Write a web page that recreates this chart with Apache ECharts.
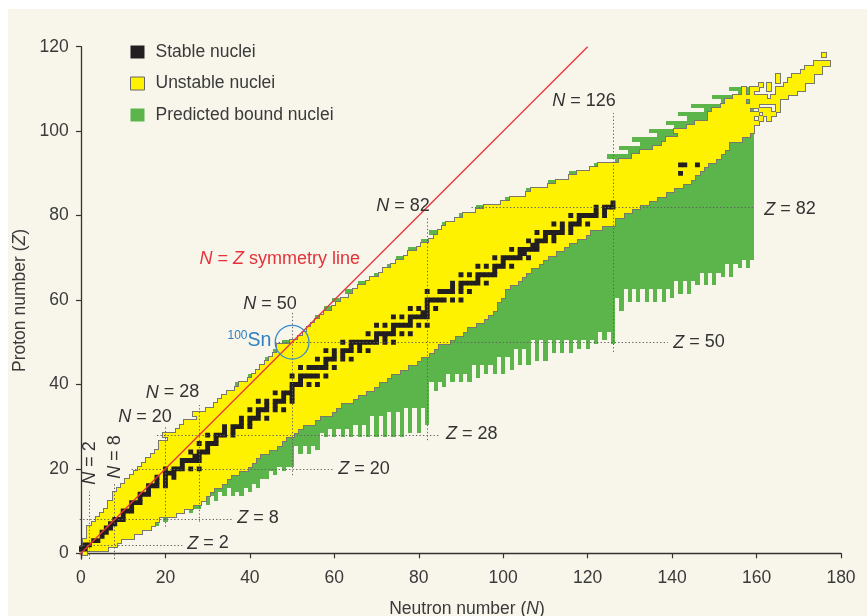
<!DOCTYPE html>
<html><head><meta charset="utf-8">
<script src="https://cdn.jsdelivr.net/npm/echarts@6/dist/echarts.min.js"></script>
<style>html,body{margin:0;padding:0;background:#fff}#c{width:867px;height:616px}</style>
</head><body><div id="c"></div>
<script>
// ---------------- DATA ----------------
const xTicks = [0, 20, 40, 60, 80, 100, 120, 140, 160, 180];
const yTicks = [0, 20, 40, 60, 80, 100, 120];

// Known (unstable) nuclei: lightest / heaviest neutron number per proton number Z = 0..99
const yellowNmin = [
  1, 0, 1, 1, 2, 2, 2, 3, 4, 5,
  6, 7, 7, 8, 8, 9, 10, 11, 12, 13,
  14, 15, 16, 17, 18, 19, 19, 21, 20, 23,
  24, 25, 28, 27, 30, 32, 33, 34, 35, 37,
  38, 40, 41, 42, 43, 44, 45, 46, 47, 47,
  50, 52, 53, 54, 55, 56, 57, 58, 60, 61,
  62, 64, 65, 66, 68, 69, 71, 72, 74, 75,
  77, 78, 80, 81, 83, 84, 85, 86, 87, 89,
  91, 94, 96, 100, 102, 106, 107, 111, 113, 116,
  118, 121, 123, 128, 131, 133, 136, 138, 139, 142
];
const yellowNmax = [
  1, 6, 8, 9, 12, 14, 16, 17, 18, 22,
  24, 26, 28, 29, 30, 31, 33, 34, 35, 37,
  39, 40, 41, 42, 44, 46, 47, 48, 50, 51,
  52, 55, 56, 59, 60, 61, 64, 65, 67, 69,
  70, 72, 73, 75, 77, 79, 80, 82, 83, 84,
  87, 88, 90, 91, 93, 95, 96, 97, 98, 98,
  99, 100, 100, 101, 103, 104, 105, 106, 108, 109,
  110, 112, 114, 115, 117, 119, 120, 123, 126, 126,
  128, 130, 132, 134, 136, 138, 140, 142, 144, 145,
  146, 147, 148, 150, 151, 152, 153, 153, 156, 158
];
// Superheavy rows: [Z, Nfrom, Nto]
const heavySegments = [
  [100,141,159],[101,144,159],[102,146,160],
  [103,149,159],[103,161,161],[103,163,163],
  [104,149,160],[104,162,164],
  [105,150,158],[105,161,163],[105,165,165],
  [106,152,160],[106,165,165],
  [107,153,157],[107,159,165],
  [108,155,162],[108,164,167],
  [109,157,157],[109,159,159],[109,165,169],
  [110,157,157],[110,159,160],[110,163,163],[110,165,171],
  [111,161,161],[111,163,163],[111,167,171],
  [112,165,165],[112,168,173],
  [113,165,165],[113,169,173],
  [114,171,175],[115,172,175],[116,174,177],[118,176,176]
];

// Predicted bound nuclei, neutron-rich side: lowest Z for each N = 16..159
const dripStartN = 16;
const dripZ = [
  7, 8, 7, 9, 8, 10, 9, 11, 10, 11, 10, 11, 11, 13, 12,          // N 16-30
  14, 13, 15, 14, 16, 14, 15, 14, 16, 15, 17, 16, 18, 18, 20,    // N 31-45
  19, 21, 20, 21, 21,                                            // N 46-50
  26, 24, 26, 24, 26, 25, 29, 28, 30, 28, 30, 28, 30, 28, 31,    // N 51-65
  28, 31, 28, 33, 28, 33, 28, 34, 28, 34, 28, 35, 29, 35, 29,    // N 66-80
  35, 31,                                                        // N 81-82
  41, 39, 41, 40, 43, 41, 43, 41, 43, 41, 45, 42, 45, 43, 45,    // N 83-97
  43, 47, 43, 47, 44, 49, 45, 49, 45, 51, 46, 51, 46, 51, 48,    // N 98-112
  51, 48, 51, 48, 51, 49, 51, 49, 51, 50, 53, 51, 53, 50,        // N 113-126
  61, 58, 63, 60, 63, 60, 63, 60, 63, 60, 63, 60, 63, 61, 65,    // N 127-141
  62, 65, 62, 65, 64, 67, 64, 67, 64, 67, 66, 69, 66, 69, 68,    // N 142-156
  70, 68, 70                                                     // N 157-159
];
// Predicted bound nuclei, proton-rich side: [Z, lowest N]
const protonGreenZ = [40, 42, 46, 48, 50, 56, 58, 60, 62, 64, 66, 68, 70, 72, 74, 76, 78, 80, 82, 84, 86, 88, 90, 92,
  93, 94, 95, 96, 97, 98, 99, 100, 101, 102, 103, 104, 105, 106, 107, 108, 109, 110];
const protonGreenN = [37, 40, 44, 46, 48, 56, 58, 60, 63, 66, 70, 73, 75, 78, 81, 83, 86, 90, 94, 101, 106, 111, 116, 122,
  127, 125, 130, 128, 133, 131, 137, 135, 141, 139, 144, 142, 148, 145, 152, 150, 156, 154];
const greenEdgeN = 159;

// Stable nuclei: neutron numbers per Z
const stableByZ = {
  1:[0,1], 2:[1,2], 3:[3,4], 4:[5], 5:[5,6], 6:[6,7], 7:[7,8], 8:[8,9,10], 9:[10], 10:[10,11,12],
  11:[12], 12:[12,13,14], 13:[14], 14:[14,15,16], 15:[16], 16:[16,17,18,20], 17:[18,20], 18:[18,20,22],
  19:[20,21,22], 20:[20,22,23,24,26,28], 21:[24], 22:[24,25,26,27,28], 23:[27,28], 24:[26,28,29,30],
  25:[30], 26:[28,30,31,32], 27:[32], 28:[30,32,33,34,36], 29:[34,36], 30:[34,36,37,38,40], 31:[38,40],
  32:[38,40,41,42,44], 33:[42], 34:[40,42,43,44,46,48], 35:[44,46], 36:[42,44,46,47,48,50], 37:[48,50],
  38:[46,48,49,50], 39:[50], 40:[50,51,52,54,56], 41:[52], 42:[50,52,53,54,55,56,58],
  44:[52,54,55,56,57,58,60], 45:[58], 46:[56,58,59,60,62,64], 47:[60,62], 48:[58,60,62,63,64,66,68],
  49:[64,66], 50:[62,64,65,66,67,68,69,70,72,74], 51:[70,72], 52:[68,70,71,72,73,74,76,78], 53:[74],
  54:[70,72,74,75,76,77,78,80,82], 55:[78], 56:[74,76,78,79,80,81,82], 57:[81,82], 58:[78,80,82,84],
  59:[82], 60:[82,83,84,85,86,88,90], 62:[82,85,86,87,88,90,92], 63:[88,90], 64:[88,90,91,92,93,94,96],
  65:[94], 66:[90,92,94,95,96,97,98], 67:[98], 68:[94,96,98,99,100,102], 69:[100],
  70:[98,100,101,102,103,104,106], 71:[104,105], 72:[102,104,105,106,107,108], 73:[107,108],
  74:[106,108,109,110,112], 75:[110,112], 76:[108,110,111,112,113,114,116], 77:[114,116],
  78:[112,114,116,117,118,120], 79:[118], 80:[116,118,119,120,121,122,124], 81:[122,124],
  82:[122,124,125,126], 83:[126], 90:[142], 92:[142,143,146]
};

// Magic-number guide lines: [axis, value, from, to]
const magicGuides = [
  ['N', 2, -1.35, 14.6], ['N', 8, -1.35, 16.6], ['N', 20, 6.3, 30], ['N', 28, 7.5, 35.1],
  ['N', 50, 18.5, 57.2], ['N', 82, 26.8, 79.7], ['N', 126, 47.7, 104.3],
  ['Z', 2, -0.3, 24], ['Z', 8, -0.3, 36], ['Z', 20, 12, 60], ['Z', 28, 18, 85],
  ['Z', 50, 46, 139], ['Z', 82, 92.5, 159.6]
];
const symmetryLine = [[-0.3, -0.3], [120, 120]];
const sn100 = [50, 50];

// ---------------- BUILD ----------------
const FONT = 'Liberation Sans, Arial, sans-serif';
const TXT = '#3a3a3a';
const C_YEL = '#fff200', C_GRN = '#5cb54b', C_BLK = '#231f20', C_OUT = '#77776c';

const yellowRows = [];
for (let z = 0; z < yellowNmin.length; z++) yellowRows.push([z, yellowNmin[z], yellowNmax[z]]);
heavySegments.forEach(s => yellowRows.push(s.slice()));

function zLow(n) {
  let best = null;
  yellowRows.forEach(r => { if (r[1] <= n && n <= r[2] && (best === null || r[0] < best)) best = r[0]; });
  return best;
}
const greenCols = [];
dripZ.forEach((z0, i) => {
  const n = dripStartN + i;
  const zl = zLow(n);
  if (zl !== null && z0 <= zl) greenCols.push([n, z0, zl]);
});
const greenRows = [];
protonGreenZ.forEach((z, i) => {
  const n0 = protonGreenN[i];
  const n1 = z >= 93 ? greenEdgeN : yellowNmin[z] + 1;
  greenRows.push([z, n0, n1]);
});
const stableCells = [];
Object.keys(stableByZ).forEach(k => stableByZ[k].forEach(n => stableCells.push([n, +k])));

function rectOf(api, xa, xb, ya, yb) {
  const p1 = api.coord([xa, yb]), p2 = api.coord([xb, ya]);
  const x1 = Math.round(p1[0]), y1 = Math.round(p1[1]), x2 = Math.round(p2[0]), y2 = Math.round(p2[1]);
  return {x: x1, y: y1, width: x2 - x1, height: y2 - y1};
}
function rowRender(color, grow) {
  return function (params, api) {
    const z = api.value(0), n1 = api.value(1), n2 = api.value(2);
    const r = rectOf(api, n1 - 0.5, n2 + 0.5, z - 0.5, z + 0.5);
    if (grow) { r.x -= grow; r.y -= grow; r.width += 2 * grow; r.height += 2 * grow; }
    return {type: 'rect', shape: r, style: {fill: color}};
  };
}
function colRender(color) {
  return function (params, api) {
    const n = api.value(0), z1 = api.value(1), z2 = api.value(2);
    return {type: 'rect', shape: rectOf(api, n - 0.5, n + 0.5, z1 - 0.5, z2 + 0.5), style: {fill: color}};
  };
}
function cellRender(color, grow) {
  return function (params, api) {
    const n = api.value(0), z = api.value(1);
    const p1 = api.coord([n - 0.5, z + 0.5]), p2 = api.coord([n + 0.5, z - 0.5]);
    return {type: 'rect', shape: {x: p1[0] - grow, y: p1[1] - grow, width: p2[0] - p1[0] + 2 * grow, height: p2[1] - p1[1] + 2 * grow},
      style: {fill: color}};
  };
}

const guideLines = magicGuides.map(g => ({
  coords: g[0] === 'N' ? [[g[1], g[2]], [g[1], g[3]]] : [[g[2], g[1]], [g[3], g[1]]]
}));

function label(x, y, text, opts) {
  opts = opts || {};
  return {
    type: 'text', x: x, y: y, rotation: opts.rot || 0, z: 100,
    style: {
      text: text, fontSize: opts.size || 18, fontFamily: FONT, fill: opts.color || '#333',
      align: opts.align || 'center', verticalAlign: 'middle',
      rich: {i: {fontStyle: 'italic', fontSize: opts.size || 18, fontFamily: FONT, fill: opts.color || '#333'}}
    }
  };
}

const graphics = [
  {type: 'rect', shape: {x: 0, y: 0, width: 867, height: 9}, style: {fill: '#ffffff'}, z: 100},
  {type: 'rect', shape: {x: 0, y: 0, width: 8, height: 616}, style: {fill: '#ffffff'}, z: 100},
  label(90, 463, '{i|N} = 2', {rot: Math.PI / 2}),
  label(115, 457, '{i|N} = 8', {rot: Math.PI / 2}),
  label(145, 417, '{i|N} = 20'),
  label(172.5, 392.5, '{i|N} = 28'),
  label(270, 304, '{i|N} = 50'),
  label(403, 206, '{i|N} = 82'),
  label(584, 101, '{i|N} = 126'),
  label(790, 209.5, '{i|Z} = 82'),
  label(699, 342.5, '{i|Z} = 50'),
  label(471.7, 434, '{i|Z} = 28'),
  label(364, 469, '{i|Z} = 20'),
  label(258, 518, '{i|Z} = 8'),
  label(208, 543.5, '{i|Z} = 2'),
  label(279.7, 259, '{i|N} = {i|Z} symmetry line', {color: '#e5323b'}),
  label(247.5, 336, '100', {size: 12, color: '#2e80c3', align: 'right'}),
  label(247.5, 340.5, 'Sn', {size: 19.5, color: '#2e80c3', align: 'left'}),
  label(20, 300.5, 'Proton number ({i|Z})', {rot: Math.PI / 2, size: 17.5, color: TXT}),
  label(467, 609, 'Neutron number ({i|N})', {size: 17.5, color: TXT})
];

const option = {
  animation: false,
  backgroundColor: '#f8f5ea',
  grid: {left: 79.7, right: 26, top: 46.7, bottom: 57},
  xAxis: {
    type: 'value', min: -0.3, max: 180,
    axisLine: {show: true, lineStyle: {color: '#333', width: 1.3}},
    axisTick: {show: true, length: 5, customValues: xTicks, lineStyle: {color: '#333', width: 1.2}},
    axisLabel: {customValues: xTicks, fontSize: 17.5, fontFamily: FONT, color: TXT, margin: 10},
    splitLine: {show: false}
  },
  yAxis: {
    type: 'value', min: -1.35, max: 120,
    axisLine: {show: true, lineStyle: {color: '#333', width: 1.3}},
    axisTick: {show: true, length: 5, customValues: yTicks, lineStyle: {color: '#333', width: 1.2}},
    axisLabel: {customValues: yTicks, fontSize: 17.5, fontFamily: FONT, color: TXT, margin: 11},
    splitLine: {show: false}
  },
  legend: {
    orient: 'vertical', left: 130, top: 43, padding: 0, itemWidth: 14, itemHeight: 13, itemGap: 13.5,
    icon: 'rect', selectedMode: false,
    textStyle: {fontSize: 17.5, fontFamily: FONT, color: TXT, padding: [0, 0, 0, 6]},
    data: [
      {name: 'Stable nuclei'},
      {name: 'Unstable nuclei', itemStyle: {borderColor: '#666', borderWidth: 1}},
      {name: 'Predicted bound nuclei'}
    ]
  },
  series: [
    {type: 'custom', name: 'Predicted bound nuclei', data: greenCols, renderItem: colRender(C_GRN),
      itemStyle: {color: C_GRN}, clip: true, z: 2, silent: true},
    {type: 'custom', name: 'Predicted bound nuclei', data: greenRows, renderItem: rowRender(C_GRN),
      itemStyle: {color: C_GRN}, clip: true, z: 2, silent: true},
    {type: 'custom', name: 'outline', data: yellowRows, renderItem: rowRender(C_OUT, 1),
      itemStyle: {color: C_OUT}, clip: true, z: 3, silent: true},
    {type: 'custom', name: 'Unstable nuclei', data: yellowRows, renderItem: rowRender(C_YEL),
      itemStyle: {color: C_YEL}, clip: true, z: 4, silent: true},
    {type: 'custom', name: 'Stable nuclei', data: stableCells, renderItem: cellRender(C_BLK, 0.35),
      itemStyle: {color: C_BLK}, clip: true, z: 5, silent: true},
    {type: 'lines', coordinateSystem: 'cartesian2d', data: guideLines, z: 6, silent: true,
      lineStyle: {color: '#5f5f5f', width: 1, type: [1.3, 2.2], opacity: 1}},
    {type: 'line', data: symmetryLine, showSymbol: false, symbol: 'none', z: 7, silent: true,
      lineStyle: {color: '#e8343c', width: 1.3}},
    {type: 'custom', data: [sn100], z: 8, silent: true, clip: false,
      renderItem: function (params, api) {
        const c = api.coord([api.value(0), api.value(1)]);
        const r = api.size([4, 0])[0];
        return {type: 'circle', shape: {cx: c[0], cy: c[1], r: r}, style: {fill: 'none', stroke: '#3a8cd0', lineWidth: 1.3}};
      }}
  ],
  graphic: graphics
};
const chart = echarts.init(document.getElementById('c'));
chart.setOption(option);
</script>
</body></html>
